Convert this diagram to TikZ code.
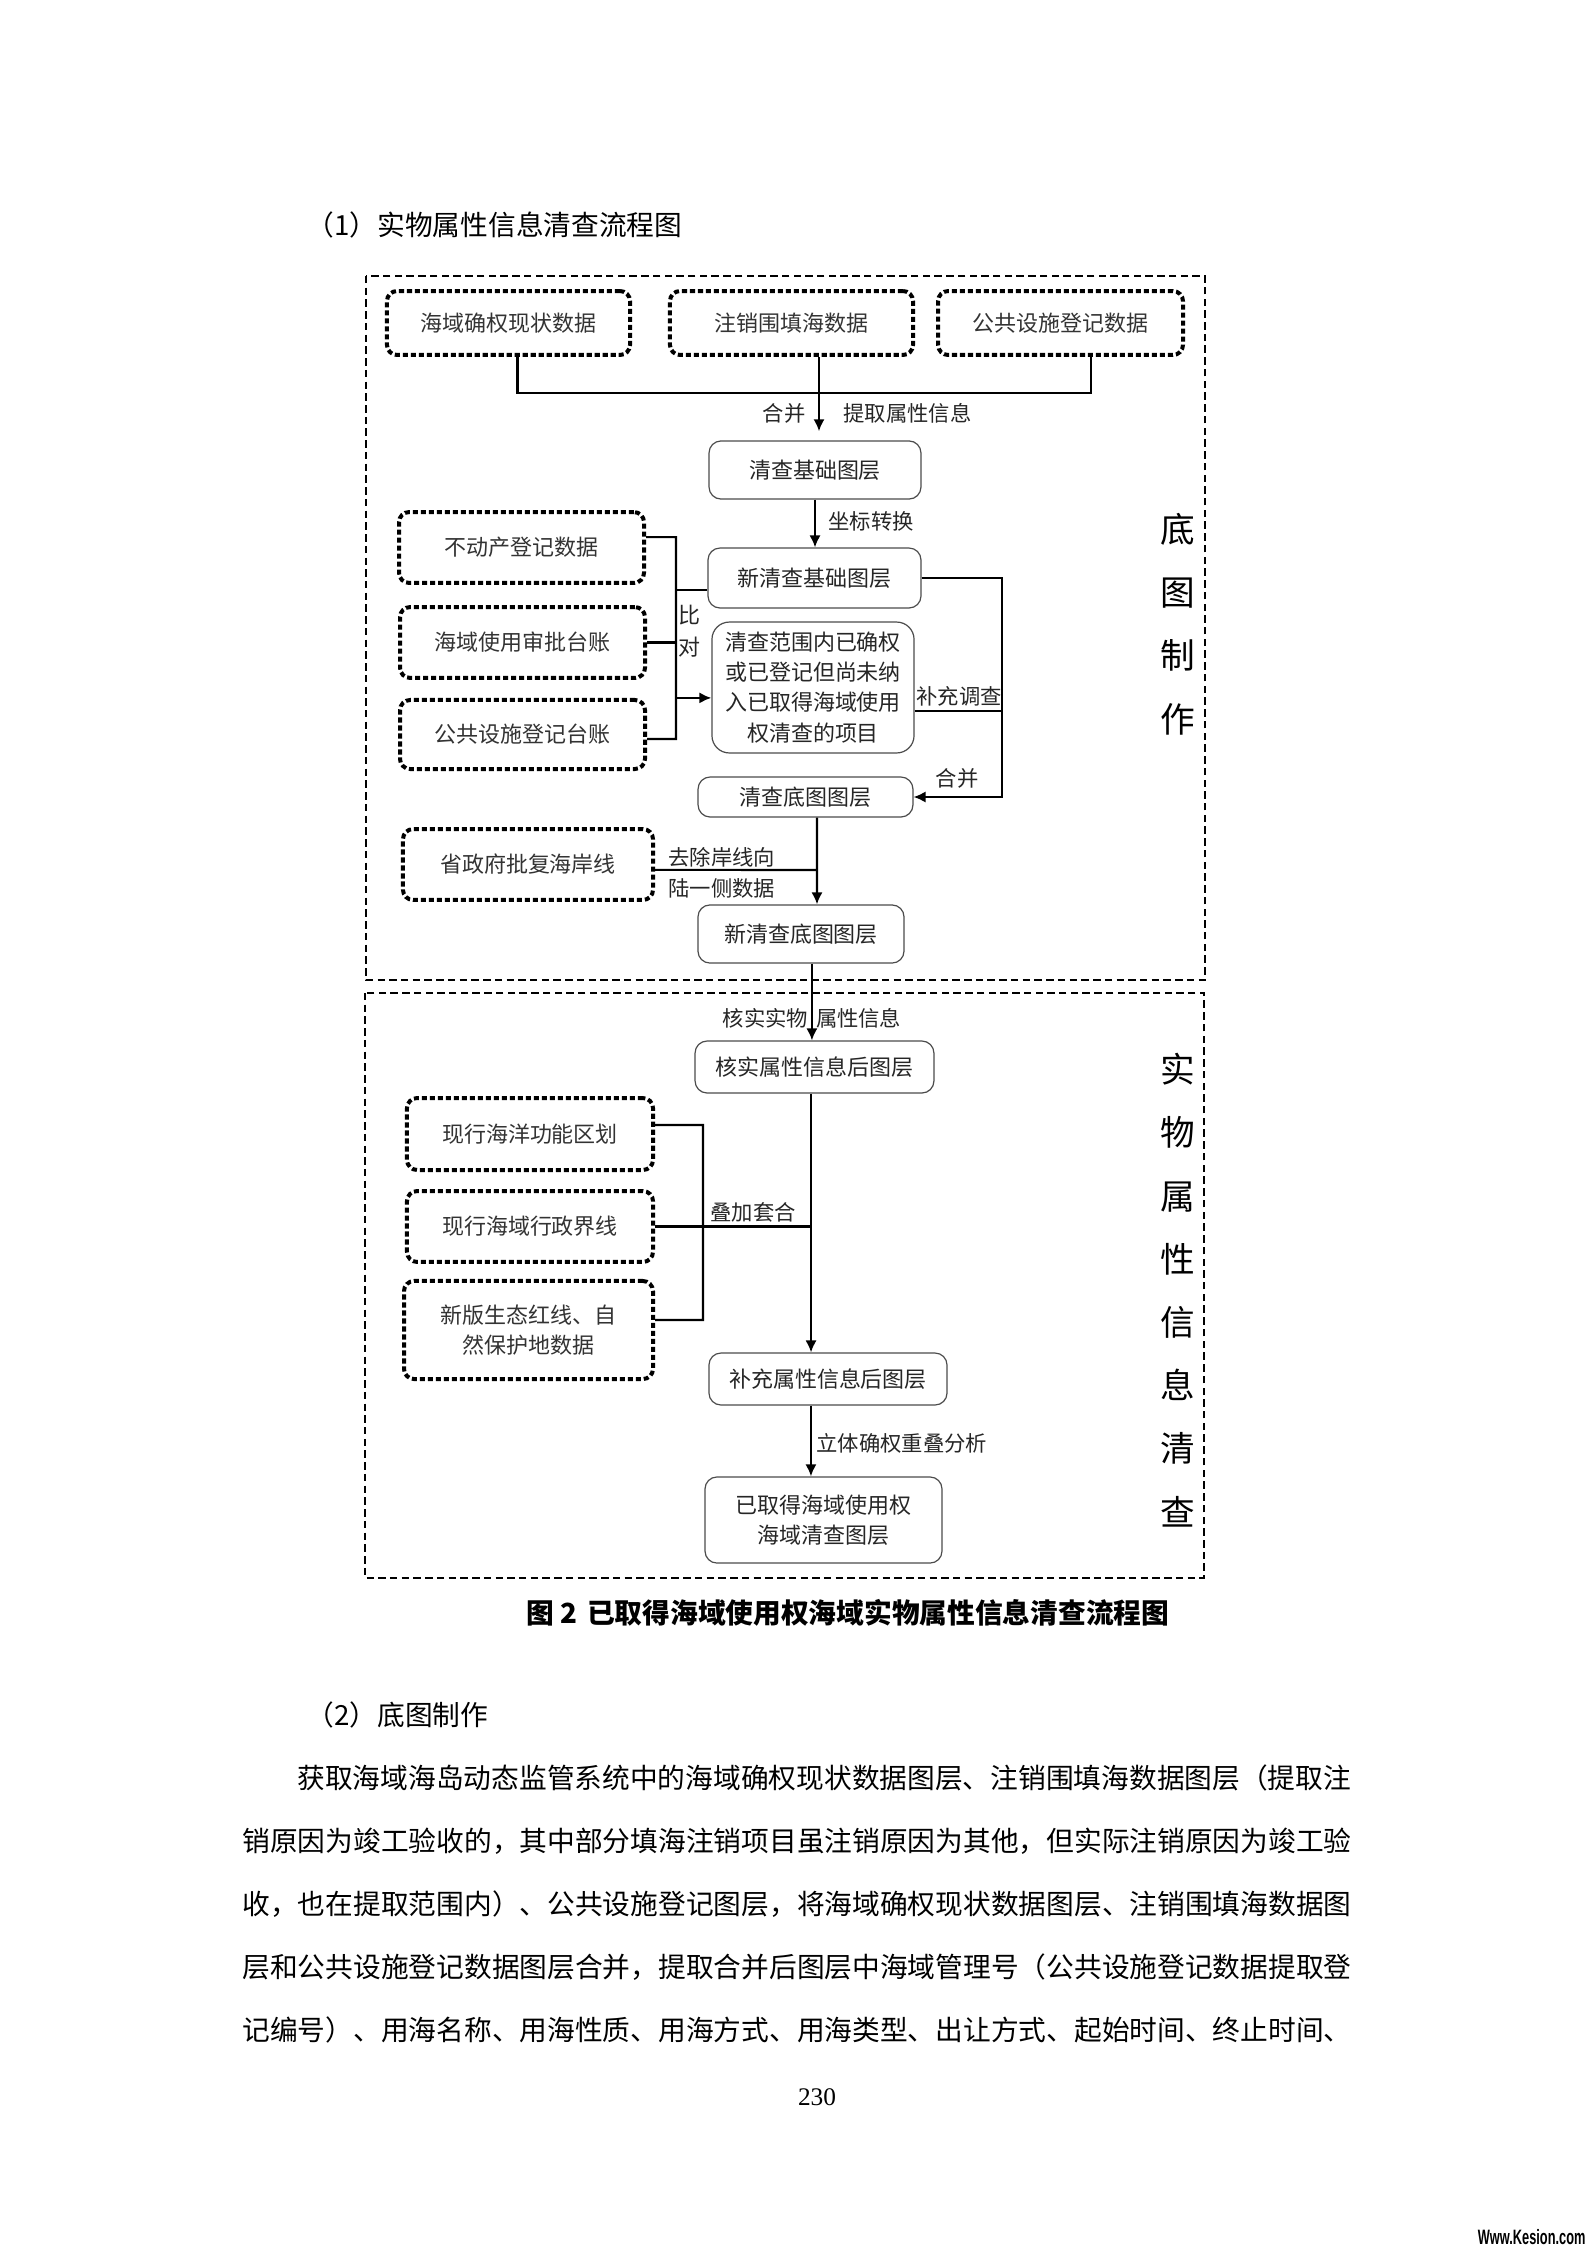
\documentclass[tikz,border=0pt]{standalone}
\usepackage{fontspec}
\setmainfont{Noto Sans CJK SC}
\newfontfamily\numfont{Liberation Serif}
\newfontfamily\wmfont{Liberation Sans}
\usepackage{tikz}
\usetikzlibrary{arrows.meta}

\newcommand{\boxfont}{\fontsize{8.25}{11.3}\selectfont}
\newcommand{\lblfont}{\fontsize{8}{10}\selectfont}
\newcommand{\bodyfont}{\fontsize{10.4}{12}\selectfont}

\begin{document}
\begin{tikzpicture}[x=0.3751pt,y=-0.3751pt,
    >={Latex[length=4.5pt,width=4.2pt]},
    datanode/.style={draw,line width=1.5pt,dash pattern=on 1.9pt off 1.1pt,
      rounded corners=3.8pt,align=center,font=\boxfont,text=black!80,inner sep=1pt},
    layernode/.style={draw=black!70,line width=0.45pt,rounded corners=4.5pt,
      align=center,font=\boxfont,text=black!85,inner sep=1pt},
    panel/.style={line width=0.6pt,dash pattern=on 2.8pt off 1.6pt},
    flow/.style={line width=0.8pt},
    lbl/.style={font=\lblfont,text=black!85,inner sep=0pt},
    side/.style={font=\fontsize{13}{23.7}\selectfont,align=center,inner sep=0pt}]

  % page
  \path[fill=white,use as bounding box] (0,0) rectangle (1587,2245);
  \node[anchor=west,font=\bodyfont,inner sep=0pt] (h1) at (306,225) {（1）实物属性信息清查流程图};

  % the two dashed panels
  \draw[panel] (366,276) rectangle (1205,980);
  \draw[panel] (365,993) rectangle (1204,1578);
  \node[side] (sdt) at (1178,624) {底\\图\\制\\作};
  \node[side] (swx) at (1178,1290) {实\\物\\属\\性\\信\\息\\清\\查};

  % source data
  \node[datanode,minimum width=91.2pt,minimum height=24pt] (hyqq) at (508.5,323) {海域确权现状数据};
  \node[datanode,minimum width=91.2pt,minimum height=24pt] (zxwt) at (791.5,323) {注销围填海数据};
  \node[datanode,minimum width=91.9pt,minimum height=24pt] (ggss) at (1060.5,323) {公共设施登记数据};
  \node[datanode,minimum width=91.9pt,minimum height=26.6pt] (bdc) at (521.5,547.5) {不动产登记数据};
  \node[datanode,minimum width=91.9pt,minimum height=26.6pt] (hysp) at (522.5,642.5) {海域使用审批台账};
  \node[datanode,minimum width=91.9pt,minimum height=25.9pt] (ggtz) at (522.5,734.5) {公共设施登记台账};
  \node[datanode,minimum width=93.8pt,minimum height=26.6pt] (hax) at (528,864.5) {省政府批复海岸线};
  \node[datanode,minimum width=92.3pt,minimum height=27pt] (gnqh) at (530,1134) {现行海洋功能区划};
  \node[datanode,minimum width=92.3pt,minimum height=26.6pt] (xzjx) at (530,1226.5) {现行海域行政界线};
  \node[datanode,minimum width=93.4pt,minimum height=36.8pt] (sthx) at (528.5,1330) {新版生态红线、自\\然保护地数据};

  % layers
  \node[layernode,minimum width=79.5pt,minimum height=21.8pt] (qcjc) at (815,470) {清查基础图层};
  \node[layernode,minimum width=79.9pt,minimum height=22.5pt] (xqcjc) at (814.5,578) {新清查基础图层};
  \node[layernode,minimum width=75.8pt,minimum height=49.1pt,rounded corners=6.5pt] (fwxm) at (813,687.5)
    {清查范围内已确权\\或已登记但尚未纳\\入已取得海域使用\\权清查的项目};
  \node[layernode,minimum width=80.6pt,minimum height=15pt] (qcdt) at (805.5,797) {清查底图图层};
  \node[layernode,minimum width=77.3pt,minimum height=21.8pt] (xqcdt) at (801,934) {新清查底图图层};
  \node[layernode,minimum width=89.6pt,minimum height=19.5pt] (hssx) at (814.5,1067) {核实属性信息后图层};
  \node[layernode,minimum width=89.3pt,minimum height=19.5pt] (bcsx) at (828,1379) {补充属性信息后图层};
  \node[layernode,minimum width=88.9pt,minimum height=32.3pt] (qdqc) at (823.5,1520) {已取得海域使用权\\海域清查图层};

  % merge
  \coordinate (hb) at (819,393);
  \draw[flow] (hyqq.south) ++(9,0) |- (hb);
  \draw[flow] (ggss.south) ++(30.5,0) |- (hb);
  \draw[flow,->,shorten >=3.4pt] (zxwt.south) ++(27.5,0) coordinate (zxo) -- (zxo |- qcjc.north);
  \node[lbl,anchor=east] (lhb) at (806,413) {合并};
  \node[lbl,anchor=west] (ltq) at (843,413) {提取属性信息};

  \draw[flow,->] (qcjc.south) -- (qcjc.south |- xqcjc.north);
  \node[lbl,anchor=west] (lzb) at (828,521) {坐标转换};

  % comparison
  \coordinate (bk1) at (676,739);
  \draw[flow] ([yshift=3.9pt]bdc.east) -| (bk1) -- ([yshift=-1.7pt]ggtz.east);
  \draw[flow] (hysp.east) -- (hysp.east -| bk1);
  \draw[flow] ([yshift=-4.5pt]xqcjc.west) -- ([yshift=-4.5pt]xqcjc.west -| bk1);
  \draw[flow,->] ([yshift=-3.9pt]fwxm.west -| bk1) -- ([yshift=-3.9pt]fwxm.west);
  \node[lbl,align=center,font=\fontsize{8.25}{12}\selectfont] (lbd) at (689,631) {比\\对};

  % supplement and merge
  \coordinate (lp) at (1002,797);
  \draw[flow,->] (xqcjc.east) -| (lp) -- (qcdt.east);
  \draw[flow] ([yshift=-8.8pt]fwxm.east) -- ([yshift=-8.8pt]fwxm.east -| lp);
  \node[lbl] (lbc) at (959,696) {补充调查};
  \node[lbl] (lhb2) at (957,778) {合并};

  % shoreline
  \coordinate (hj) at (817,870);
  \draw[flow,->] ([xshift=4.3pt]qcdt.south) -- (hj |- xqcdt.north);
  \draw[flow] ([yshift=-2pt]hax.east) -- (hj);
  \node[lbl,anchor=west] (lqc1) at (668,857) {去除岸线向};
  \node[lbl,anchor=west] (lqc2) at (668,888) {陆一侧数据};

  \draw[flow,->] ([xshift=4.1pt]xqcdt.south) -- ([xshift=4.1pt]xqcdt.south |- hssx.north);
  \node[lbl] (lhs) at (812,1018) {核实实物\hspace{3pt}属性信息};

  % overlay
  \coordinate (ml) at (811,1228);
  \draw[flow,->] ([xshift=-1.3pt]hssx.south) -- ([xshift=-1.3pt]hssx.south |- bcsx.north);
  \coordinate (bk2) at (703,1320);
  \draw[flow] ([yshift=3.4pt]gnqh.east) -| (bk2) -- ([yshift=3.75pt]sthx.east);
  \draw[flow] (xzjx.east) -- (xzjx.east -| ml);
  \node[lbl] (ldj) at (753,1212) {叠加套合};

  \draw[flow,->] ([xshift=-6.4pt]bcsx.south) -- ([xshift=-6.4pt]bcsx.south |- qdqc.north);
  \node[lbl,anchor=west] (llt) at (816,1443) {立体确权重叠分析};

  % caption and text
  \node[anchor=west,font=\bodyfont\bfseries,inner sep=0pt] (cap) at (526,1613) {图\hspace{2.5pt}2\hspace{3.5pt}已取得海域使用权海域实物属性信息清查流程图};
  \node[anchor=west,font=\bodyfont,inner sep=0pt] (h2) at (306,1715) {（2）底图制作};
  \node[anchor=west,font=\bodyfont,inner sep=0pt] (p1) at (297,1778) {获取海域海岛动态监管系统中的海域确权现状数据图层、注销围填海数据图层（提取注};
  \node[anchor=west,font=\bodyfont,inner sep=0pt] (p2) at (242,1841) {销原因为竣工验收的，其中部分填海注销项目虽注销原因为其他，但实际注销原因为竣工验};
  \node[anchor=west,font=\bodyfont,inner sep=0pt] (p3) at (242,1904) {收，也在提取范围内）、公共设施登记图层，将海域确权现状数据图层、注销围填海数据图};
  \node[anchor=west,font=\bodyfont,inner sep=0pt] (p4) at (242,1967) {层和公共设施登记数据图层合并，提取合并后图层中海域管理号（公共设施登记数据提取登};
  \node[anchor=west,font=\bodyfont,inner sep=0pt] (p5) at (242,2030) {记编号）、用海名称、用海性质、用海方式、用海类型、出让方式、起始时间、终止时间、};
  \node[font=\numfont\fontsize{9.5}{11}\selectfont,inner sep=0pt] (pg) at (817,2097) {230};
  \node[anchor=east,font=\wmfont\bfseries\fontsize{6}{7}\selectfont,inner sep=0pt] (wm) at (1586,2237) {\scalebox{0.8}[1.3]{Www.Kesion.com}};
\end{tikzpicture}
\end{document}
